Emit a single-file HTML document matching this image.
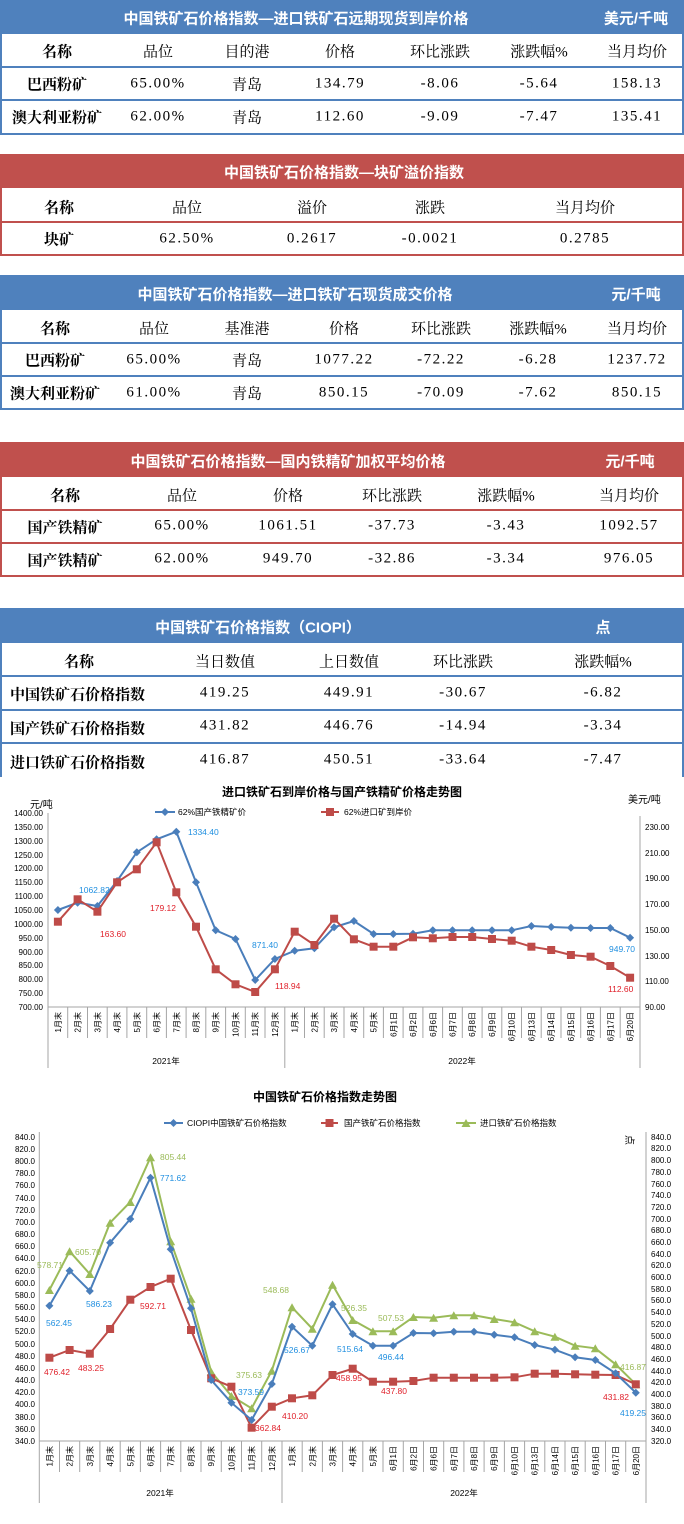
<!DOCTYPE html>
<html><head><meta charset="utf-8">
<style>
*{margin:0;padding:0;box-sizing:border-box}
body{width:684px;height:1524px;background:#fff;position:relative;overflow:hidden;font-family:"Liberation Serif","Noto Serif CJK SC",serif;color:#000}
.hb{position:absolute;left:0;width:684px;background:#4f81bd}
.hr{position:absolute;left:0;width:684px;background:#c0504d}
.ht{position:absolute;color:#fff;font-family:"Liberation Sans","Noto Sans CJK SC",sans-serif;font-weight:bold;font-size:15px;transform:translate(-50%,-50%);white-space:nowrap}
.ln{position:absolute;left:0;width:684px;height:2px}
.vl{position:absolute;width:2px}
.c{position:absolute;transform:translate(-50%,-50%);font-size:15px;white-space:nowrap}
.n{letter-spacing:1.5px}
.b{font-weight:bold}
.l{position:absolute;transform:translate(0,-50%);font-size:15px;font-weight:bold;white-space:nowrap}
svg text{font-family:"Liberation Sans","Noto Sans CJK SC",sans-serif}
</style></head><body>

<!-- Table 1 -->
<div class="hb" style="top:0;height:34px"></div>
<div class="ht" style="left:296px;top:18px">中国铁矿石价格指数—进口铁矿石远期现货到岸价格</div>
<div class="ht" style="left:636px;top:18px">美元/千吨</div>
<div class="vl" style="left:0;top:34px;height:101px;background:#4f81bd"></div>
<div class="vl" style="left:682px;top:34px;height:101px;background:#4f81bd"></div>
<div class="ln" style="top:66px;background:#4f81bd"></div>
<div class="ln" style="top:99px;background:#4f81bd"></div>
<div class="ln" style="top:133px;background:#4f81bd"></div>
<div class="c b" style="left:57px;top:51px">名称</div><div class="c" style="left:158px;top:51px">品位</div><div class="c" style="left:247px;top:51px">目的港</div><div class="c" style="left:340px;top:51px">价格</div><div class="c" style="left:440px;top:51px">环比涨跌</div><div class="c" style="left:539px;top:51px">涨跌幅%</div><div class="c" style="left:637px;top:51px">当月均价</div>
<div class="c b" style="left:57px;top:84px">巴西粉矿</div><div class="c n" style="left:158px;top:84px">65.00%</div><div class="c" style="left:247px;top:84px">青岛</div><div class="c n" style="left:340px;top:84px">134.79</div><div class="c n" style="left:440px;top:84px">-8.06</div><div class="c n" style="left:539px;top:84px">-5.64</div><div class="c n" style="left:637px;top:84px">158.13</div>
<div class="c b" style="left:57px;top:117px">澳大利亚粉矿</div><div class="c n" style="left:158px;top:117px">62.00%</div><div class="c" style="left:247px;top:117px">青岛</div><div class="c n" style="left:340px;top:117px">112.60</div><div class="c n" style="left:440px;top:117px">-9.09</div><div class="c n" style="left:539px;top:117px">-7.47</div><div class="c n" style="left:637px;top:117px">135.41</div>

<!-- Table 2 -->
<div class="hr" style="top:154px;height:34px"></div>
<div class="ht" style="left:344px;top:172px">中国铁矿石价格指数—块矿溢价指数</div>
<div class="vl" style="left:0;top:188px;height:68px;background:#c0504d"></div>
<div class="vl" style="left:682px;top:188px;height:68px;background:#c0504d"></div>
<div class="ln" style="top:221px;background:#c0504d"></div>
<div class="ln" style="top:254px;background:#c0504d"></div>
<div class="c b" style="left:59px;top:207px">名称</div><div class="c" style="left:187px;top:207px">品位</div><div class="c" style="left:312px;top:207px">溢价</div><div class="c" style="left:430px;top:207px">涨跌</div><div class="c" style="left:585px;top:207px">当月均价</div>
<div class="c b" style="left:59px;top:239px">块矿</div><div class="c n" style="left:187px;top:239px">62.50%</div><div class="c n" style="left:312px;top:239px">0.2617</div><div class="c n" style="left:430px;top:239px">-0.0021</div><div class="c n" style="left:585px;top:239px">0.2785</div>

<!-- Table 3 -->
<div class="hb" style="top:275px;height:35px"></div>
<div class="ht" style="left:295px;top:294px">中国铁矿石价格指数—进口铁矿石现货成交价格</div>
<div class="ht" style="left:636px;top:294px">元/千吨</div>
<div class="vl" style="left:0;top:310px;height:100px;background:#4f81bd"></div>
<div class="vl" style="left:682px;top:310px;height:100px;background:#4f81bd"></div>
<div class="ln" style="top:342px;background:#4f81bd"></div>
<div class="ln" style="top:375px;background:#4f81bd"></div>
<div class="ln" style="top:408px;background:#4f81bd"></div>
<div class="c b" style="left:55px;top:328px">名称</div><div class="c" style="left:154px;top:328px">品位</div><div class="c" style="left:247px;top:328px">基准港</div><div class="c" style="left:344px;top:328px">价格</div><div class="c" style="left:441px;top:328px">环比涨跌</div><div class="c" style="left:538px;top:328px">涨跌幅%</div><div class="c" style="left:637px;top:328px">当月均价</div>
<div class="c b" style="left:55px;top:360px">巴西粉矿</div><div class="c n" style="left:154px;top:360px">65.00%</div><div class="c" style="left:247px;top:360px">青岛</div><div class="c n" style="left:344px;top:360px">1077.22</div><div class="c n" style="left:441px;top:360px">-72.22</div><div class="c n" style="left:538px;top:360px">-6.28</div><div class="c n" style="left:637px;top:360px">1237.72</div>
<div class="c b" style="left:55px;top:393px">澳大利亚粉矿</div><div class="c n" style="left:154px;top:393px">61.00%</div><div class="c" style="left:247px;top:393px">青岛</div><div class="c n" style="left:344px;top:393px">850.15</div><div class="c n" style="left:441px;top:393px">-70.09</div><div class="c n" style="left:538px;top:393px">-7.62</div><div class="c n" style="left:637px;top:393px">850.15</div>

<!-- Table 4 -->
<div class="hr" style="top:442px;height:35px"></div>
<div class="ht" style="left:288px;top:461px">中国铁矿石价格指数—国内铁精矿加权平均价格</div>
<div class="ht" style="left:630px;top:461px">元/千吨</div>
<div class="vl" style="left:0;top:477px;height:100px;background:#c0504d"></div>
<div class="vl" style="left:682px;top:477px;height:100px;background:#c0504d"></div>
<div class="ln" style="top:509px;background:#c0504d"></div>
<div class="ln" style="top:542px;background:#c0504d"></div>
<div class="ln" style="top:575px;background:#c0504d"></div>
<div class="c b" style="left:65px;top:495px">名称</div><div class="c" style="left:182px;top:495px">品位</div><div class="c" style="left:288px;top:495px">价格</div><div class="c" style="left:392px;top:495px">环比涨跌</div><div class="c" style="left:506px;top:495px">涨跌幅%</div><div class="c" style="left:629px;top:495px">当月均价</div>
<div class="c b" style="left:65px;top:527px">国产铁精矿</div><div class="c n" style="left:182px;top:526px">65.00%</div><div class="c n" style="left:288px;top:526px">1061.51</div><div class="c n" style="left:392px;top:526px">-37.73</div><div class="c n" style="left:506px;top:526px">-3.43</div><div class="c n" style="left:629px;top:526px">1092.57</div>
<div class="c b" style="left:65px;top:560px">国产铁精矿</div><div class="c n" style="left:182px;top:559px">62.00%</div><div class="c n" style="left:288px;top:559px">949.70</div><div class="c n" style="left:392px;top:559px">-32.86</div><div class="c n" style="left:506px;top:559px">-3.34</div><div class="c n" style="left:629px;top:559px">976.05</div>

<!-- Table 5 -->
<div class="hb" style="top:608px;height:35px"></div>
<div class="ht" style="left:258px;top:627px">中国铁矿石价格指数（CIOPI）</div>
<div class="ht" style="left:603px;top:627px">点</div>
<div class="vl" style="left:0;top:643px;height:134px;background:#4f81bd"></div>
<div class="vl" style="left:682px;top:643px;height:134px;background:#4f81bd"></div>
<div class="ln" style="top:675px;background:#4f81bd"></div>
<div class="ln" style="top:709px;background:#4f81bd"></div>
<div class="ln" style="top:742px;background:#4f81bd"></div>
<div class="c b" style="left:79px;top:661px">名称</div><div class="c" style="left:225px;top:661px">当日数值</div><div class="c" style="left:349px;top:661px">上日数值</div><div class="c" style="left:463px;top:661px">环比涨跌</div><div class="c" style="left:603px;top:661px">涨跌幅%</div>
<div class="l" style="left:10px;top:694px">中国铁矿石价格指数</div><div class="c n" style="left:225px;top:693px">419.25</div><div class="c n" style="left:349px;top:693px">449.91</div><div class="c n" style="left:463px;top:693px">-30.67</div><div class="c n" style="left:603px;top:693px">-6.82</div>
<div class="l" style="left:10px;top:728px">国产铁矿石价格指数</div><div class="c n" style="left:225px;top:726px">431.82</div><div class="c n" style="left:349px;top:726px">446.76</div><div class="c n" style="left:463px;top:726px">-14.94</div><div class="c n" style="left:603px;top:726px">-3.34</div>
<div class="l" style="left:10px;top:762px">进口铁矿石价格指数</div><div class="c n" style="left:225px;top:760px">416.87</div><div class="c n" style="left:349px;top:760px">450.51</div><div class="c n" style="left:463px;top:760px">-33.64</div><div class="c n" style="left:603px;top:760px">-7.47</div>

<svg style="position:absolute;left:0;top:0" width="684" height="1524" viewBox="0 0 684 1524">
<defs>
<marker id="dm" markerUnits="userSpaceOnUse" markerWidth="10" markerHeight="10" refX="5" refY="5"><path d="M5 1 L9 5 L5 9 L1 5Z" fill="#4a7ebb"/></marker>
<marker id="sm" markerUnits="userSpaceOnUse" markerWidth="10" markerHeight="10" refX="5" refY="5"><rect x="1" y="1" width="8" height="8" fill="#be4b48"/></marker>
<marker id="tm" markerUnits="userSpaceOnUse" markerWidth="10" markerHeight="10" refX="5" refY="5"><path d="M5 1 L9.5 9 L0.5 9Z" fill="#9bbb59"/></marker>
</defs>
<rect x="0" y="777" width="684" height="747" fill="#fff"/>

<!-- ===== Chart 1 ===== -->
<text x="342" y="796" font-size="12" font-weight="bold" text-anchor="middle">进口铁矿石到岸价格与国产铁精矿价格走势图</text>
<text x="30" y="808" font-size="10">元/吨</text>
<text x="628" y="803" font-size="10">美元/吨</text>
<line x1="155" y1="812" x2="175" y2="812" stroke="#4a7ebb" stroke-width="2" marker-mid="url(#dm)"/>
<path d="M155 812 L165 812 L175 812" stroke="#4a7ebb" stroke-width="2" fill="none" marker-mid="url(#dm)"/>
<text x="178" y="815" font-size="8.5">62%国产铁精矿价</text>
<path d="M321 812 L330 812 L339 812" stroke="#be4b48" stroke-width="2" fill="none" marker-mid="url(#sm)"/>
<text x="344" y="815" font-size="8.5">62%进口矿到岸价</text>
<g stroke="#a6a6a6" stroke-width="1" fill="none">
<path d="M48 813 V1068 M640 816 V1068 M48 1007 H640 M284.8 1007 V1068"/>
<path d="M67.7 1007V1038M87.5 1007V1038M107.2 1007V1038M126.9 1007V1038M146.7 1007V1038M166.4 1007V1038M186.1 1007V1038M205.8 1007V1038M225.6 1007V1038M245.3 1007V1038M265 1007V1038M304.5 1007V1038M324.2 1007V1038M344 1007V1038M363.7 1007V1038M383.4 1007V1038M403.1 1007V1038M422.9 1007V1038M442.6 1007V1038M462.3 1007V1038M482.1 1007V1038M501.8 1007V1038M521.5 1007V1038M541.2 1007V1038M561 1007V1038M580.7 1007V1038M600.4 1007V1038M620.2 1007V1038"/>
</g>
<g font-size="8" text-anchor="end">
<text x="43" y="816">1400.00</text><text x="43" y="830">1350.00</text><text x="43" y="844">1300.00</text><text x="43" y="858">1250.00</text><text x="43" y="871">1200.00</text><text x="43" y="885">1150.00</text><text x="43" y="899">1100.00</text><text x="43" y="913">1050.00</text><text x="43" y="927">1000.00</text><text x="43" y="941">950.00</text><text x="43" y="955">900.00</text><text x="43" y="968">850.00</text><text x="43" y="982">800.00</text><text x="43" y="996">750.00</text><text x="43" y="1010">700.00</text>
</g>
<g font-size="8">
<text x="645" y="830">230.00</text><text x="645" y="856">210.00</text><text x="645" y="881">190.00</text><text x="645" y="907">170.00</text><text x="645" y="933">150.00</text><text x="645" y="959">130.00</text><text x="645" y="984">110.00</text><text x="645" y="1010">90.00</text>
</g>
<g font-size="8" text-anchor="end">
<text transform="translate(57.9,1012) rotate(-90)" dy="3">1月末</text><text transform="translate(77.6,1012) rotate(-90)" dy="3">2月末</text><text transform="translate(97.4,1012) rotate(-90)" dy="3">3月末</text><text transform="translate(117.1,1012) rotate(-90)" dy="3">4月末</text><text transform="translate(136.8,1012) rotate(-90)" dy="3">5月末</text><text transform="translate(156.6,1012) rotate(-90)" dy="3">6月末</text><text transform="translate(176.3,1012) rotate(-90)" dy="3">7月末</text><text transform="translate(196,1012) rotate(-90)" dy="3">8月末</text><text transform="translate(215.7,1012) rotate(-90)" dy="3">9月末</text><text transform="translate(235.5,1012) rotate(-90)" dy="3">10月末</text><text transform="translate(255.2,1012) rotate(-90)" dy="3">11月末</text><text transform="translate(274.9,1012) rotate(-90)" dy="3">12月末</text><text transform="translate(294.7,1012) rotate(-90)" dy="3">1月末</text><text transform="translate(314.4,1012) rotate(-90)" dy="3">2月末</text><text transform="translate(334.1,1012) rotate(-90)" dy="3">3月末</text><text transform="translate(353.9,1012) rotate(-90)" dy="3">4月末</text><text transform="translate(373.6,1012) rotate(-90)" dy="3">5月末</text><text transform="translate(393.3,1012) rotate(-90)" dy="3">6月1日</text><text transform="translate(413,1012) rotate(-90)" dy="3">6月2日</text><text transform="translate(432.8,1012) rotate(-90)" dy="3">6月6日</text><text transform="translate(452.5,1012) rotate(-90)" dy="3">6月7日</text><text transform="translate(472.2,1012) rotate(-90)" dy="3">6月8日</text><text transform="translate(492,1012) rotate(-90)" dy="3">6月9日</text><text transform="translate(511.7,1012) rotate(-90)" dy="3">6月10日</text><text transform="translate(531.4,1012) rotate(-90)" dy="3">6月13日</text><text transform="translate(551.2,1012) rotate(-90)" dy="3">6月14日</text><text transform="translate(570.9,1012) rotate(-90)" dy="3">6月15日</text><text transform="translate(590.6,1012) rotate(-90)" dy="3">6月16日</text><text transform="translate(610.3,1012) rotate(-90)" dy="3">6月17日</text><text transform="translate(630.1,1012) rotate(-90)" dy="3">6月20日</text>
</g>
<text x="166" y="1064" font-size="8.5" text-anchor="middle">2021年</text>
<text x="462" y="1064" font-size="8.5" text-anchor="middle">2022年</text>
<polyline fill="none" stroke="#4a7ebb" stroke-width="2" marker-start="url(#dm)" marker-mid="url(#dm)" marker-end="url(#dm)" points="57.9,910 77.6,902.7 97.4,906 117.1,881 136.8,852.3 156.6,839.3 176.3,831.7 196,882.3 215.7,930.3 235.5,939 255.2,980 274.9,959 294.7,950.7 314.4,948.3 334.1,927.3 353.9,921 373.6,934 393.3,934 413,933.7 432.8,930.3 452.5,930.3 472.2,930.3 492,930.3 511.7,930.3 531.4,926 551.2,927 570.9,927.7 590.6,928 610.3,928 630.1,937.7"/>
<polyline fill="none" stroke="#be4b48" stroke-width="2" marker-start="url(#sm)" marker-mid="url(#sm)" marker-end="url(#sm)" points="57.9,921.7 77.6,899.3 97.4,911.7 117.1,882.3 136.8,869.3 156.6,842.3 176.3,892.3 196,926.7 215.7,969.3 235.5,984.3 255.2,992 274.9,969.3 294.7,931.7 314.4,945 334.1,918.7 353.9,939.3 373.6,946.7 393.3,946.7 413,937.3 432.8,938.3 452.5,937 472.2,937 492,939 511.7,940.7 531.4,946.7 551.2,950 570.9,955 590.6,956.7 610.3,966 630.1,977.7"/>
<g font-size="8.5" fill="#1f8fe0">
<text x="188" y="835">1334.40</text><text x="79" y="893">1062.82</text><text x="252" y="948">871.40</text><text x="609" y="952">949.70</text>
</g>
<g font-size="8.5" fill="#e0202a">
<text x="150" y="911">179.12</text><text x="100" y="937">163.60</text><text x="275" y="989">118.94</text><text x="608" y="992">112.60</text>
</g>

<!-- ===== Chart 2 ===== -->
<text x="325" y="1101" font-size="12" font-weight="bold" text-anchor="middle">中国铁矿石价格指数走势图</text>
<path d="M164 1123 L173.5 1123 L183 1123" stroke="#4a7ebb" stroke-width="2" fill="none" marker-mid="url(#dm)"/>
<text x="187" y="1126" font-size="8.5">CIOPI中国铁矿石价格指数</text>
<path d="M321 1123 L329.5 1123 L338 1123" stroke="#be4b48" stroke-width="2" fill="none" marker-mid="url(#sm)"/>
<text x="344" y="1126" font-size="8.5">国产铁矿石价格指数</text>
<path d="M456 1123 L466 1123 L476 1123" stroke="#9bbb59" stroke-width="2" fill="none" marker-mid="url(#tm)"/>
<text x="480" y="1126" font-size="8.5">进口铁矿石价格指数</text>
<text transform="translate(629,1140) rotate(90)" font-size="10" text-anchor="middle" dy="3">点</text>
<g stroke="#a6a6a6" stroke-width="1" fill="none">
<path d="M39.3 1132 V1503 M646 1132 V1503 M39.3 1441 H646 M282 1441 V1503"/>
<path d="M59.5 1441V1472M79.7 1441V1472M99.9 1441V1472M120.2 1441V1472M140.4 1441V1472M160.6 1441V1472M180.8 1441V1472M201 1441V1472M221.3 1441V1472M241.5 1441V1472M261.7 1441V1472M302.2 1441V1472M322.4 1441V1472M342.6 1441V1472M362.8 1441V1472M383 1441V1472M403.3 1441V1472M423.5 1441V1472M443.7 1441V1472M463.9 1441V1472M484.1 1441V1472M504.4 1441V1472M524.6 1441V1472M544.8 1441V1472M565 1441V1472M585.2 1441V1472M605.5 1441V1472M625.7 1441V1472"/>
</g>
<g font-size="8" text-anchor="end">
<text x="35" y="1140">840.0</text><text x="35" y="1152">820.0</text><text x="35" y="1164">800.0</text><text x="35" y="1176">780.0</text><text x="35" y="1188">760.0</text><text x="35" y="1201">740.0</text><text x="35" y="1213">720.0</text><text x="35" y="1225">700.0</text><text x="35" y="1237">680.0</text><text x="35" y="1249">660.0</text><text x="35" y="1261">640.0</text><text x="35" y="1274">620.0</text><text x="35" y="1286">600.0</text><text x="35" y="1298">580.0</text><text x="35" y="1310">560.0</text><text x="35" y="1322">540.0</text><text x="35" y="1334">520.0</text><text x="35" y="1347">500.0</text><text x="35" y="1359">480.0</text><text x="35" y="1371">460.0</text><text x="35" y="1383">440.0</text><text x="35" y="1395">420.0</text><text x="35" y="1407">400.0</text><text x="35" y="1420">380.0</text><text x="35" y="1432">360.0</text><text x="35" y="1444">340.0</text>
</g>
<g font-size="8">
<text x="651" y="1140">840.0</text><text x="651" y="1151">820.0</text><text x="651" y="1163">800.0</text><text x="651" y="1175">780.0</text><text x="651" y="1187">760.0</text><text x="651" y="1198">740.0</text><text x="651" y="1210">720.0</text><text x="651" y="1222">700.0</text><text x="651" y="1233">680.0</text><text x="651" y="1245">660.0</text><text x="651" y="1257">640.0</text><text x="651" y="1268">620.0</text><text x="651" y="1280">600.0</text><text x="651" y="1292">580.0</text><text x="651" y="1303">560.0</text><text x="651" y="1315">540.0</text><text x="651" y="1327">520.0</text><text x="651" y="1339">500.0</text><text x="651" y="1350">480.0</text><text x="651" y="1362">460.0</text><text x="651" y="1374">440.0</text><text x="651" y="1385">420.0</text><text x="651" y="1397">400.0</text><text x="651" y="1409">380.0</text><text x="651" y="1420">360.0</text><text x="651" y="1432">340.0</text><text x="651" y="1444">320.0</text>
</g>
<g font-size="8" text-anchor="end">
<text transform="translate(49.4,1446) rotate(-90)" dy="3">1月末</text><text transform="translate(69.6,1446) rotate(-90)" dy="3">2月末</text><text transform="translate(89.8,1446) rotate(-90)" dy="3">3月末</text><text transform="translate(110.1,1446) rotate(-90)" dy="3">4月末</text><text transform="translate(130.3,1446) rotate(-90)" dy="3">5月末</text><text transform="translate(150.5,1446) rotate(-90)" dy="3">6月末</text><text transform="translate(170.7,1446) rotate(-90)" dy="3">7月末</text><text transform="translate(191,1446) rotate(-90)" dy="3">8月末</text><text transform="translate(211.2,1446) rotate(-90)" dy="3">9月末</text><text transform="translate(231.4,1446) rotate(-90)" dy="3">10月末</text><text transform="translate(251.6,1446) rotate(-90)" dy="3">11月末</text><text transform="translate(271.8,1446) rotate(-90)" dy="3">12月末</text><text transform="translate(292,1446) rotate(-90)" dy="3">1月末</text><text transform="translate(312.3,1446) rotate(-90)" dy="3">2月末</text><text transform="translate(332.5,1446) rotate(-90)" dy="3">3月末</text><text transform="translate(352.7,1446) rotate(-90)" dy="3">4月末</text><text transform="translate(372.9,1446) rotate(-90)" dy="3">5月末</text><text transform="translate(393.1,1446) rotate(-90)" dy="3">6月1日</text><text transform="translate(413.4,1446) rotate(-90)" dy="3">6月2日</text><text transform="translate(433.6,1446) rotate(-90)" dy="3">6月6日</text><text transform="translate(453.8,1446) rotate(-90)" dy="3">6月7日</text><text transform="translate(474,1446) rotate(-90)" dy="3">6月8日</text><text transform="translate(494.2,1446) rotate(-90)" dy="3">6月9日</text><text transform="translate(514.5,1446) rotate(-90)" dy="3">6月10日</text><text transform="translate(534.7,1446) rotate(-90)" dy="3">6月13日</text><text transform="translate(554.9,1446) rotate(-90)" dy="3">6月14日</text><text transform="translate(575.1,1446) rotate(-90)" dy="3">6月15日</text><text transform="translate(595.3,1446) rotate(-90)" dy="3">6月16日</text><text transform="translate(615.6,1446) rotate(-90)" dy="3">6月17日</text><text transform="translate(635.8,1446) rotate(-90)" dy="3">6月20日</text>
</g>
<text x="160" y="1496" font-size="8.5" text-anchor="middle">2021年</text>
<text x="464" y="1496" font-size="8.5" text-anchor="middle">2022年</text>
<polyline fill="none" stroke="#9bbb59" stroke-width="2" marker-start="url(#tm)" marker-mid="url(#tm)" marker-end="url(#tm)" points="49.4,1290 69.6,1251.3 89.8,1274 110.1,1222.7 130.3,1202 150.5,1157.3 170.7,1241.3 191,1298.7 211.2,1371.7 231.4,1396 251.6,1408.3 271.8,1370.7 292,1307.3 312.3,1328.7 332.5,1284.7 352.7,1320 372.9,1331.3 393.1,1331.3 413.4,1317 433.6,1317.7 453.8,1315.3 474,1315.3 494.2,1319 514.5,1322.3 534.7,1331.3 554.9,1336.7 575.1,1345.7 595.3,1348.3 615.6,1364.3 635.8,1384.3"/>
<polyline fill="none" stroke="#be4b48" stroke-width="2" marker-start="url(#sm)" marker-mid="url(#sm)" marker-end="url(#sm)" points="49.4,1357.7 69.6,1350 89.8,1353.7 110.1,1329 130.3,1299.7 150.5,1287 170.7,1278.7 191,1330 211.2,1378.3 231.4,1386.7 251.6,1427.7 271.8,1406.7 292,1398.3 312.3,1395.3 332.5,1375 352.7,1368.7 372.9,1381.7 393.1,1381.7 413.4,1381 433.6,1377.7 453.8,1377.7 474,1377.7 494.2,1377.7 514.5,1377.3 534.7,1373.7 554.9,1373.7 575.1,1374.3 595.3,1374.7 615.6,1375 635.8,1384.3"/>
<polyline fill="none" stroke="#4a7ebb" stroke-width="2" marker-start="url(#dm)" marker-mid="url(#dm)" marker-end="url(#dm)" points="49.4,1305.7 69.6,1270.7 89.8,1291 110.1,1242.7 130.3,1219 150.5,1177.7 170.7,1249.3 191,1308.3 211.2,1380 231.4,1402.7 251.6,1420 271.8,1384 292,1326.7 312.3,1345.7 332.5,1304.3 352.7,1334 372.9,1345.7 393.1,1345.7 413.4,1333 433.6,1333.3 453.8,1331.7 474,1331.7 494.2,1334.7 514.5,1337.3 534.7,1345 554.9,1349.7 575.1,1357.3 595.3,1360 615.6,1373.3 635.8,1392.7"/>
<g font-size="8.5" fill="#9bbb59">
<text x="160" y="1160">805.44</text><text x="75" y="1255">605.70</text><text x="37" y="1268">578.71</text><text x="263" y="1293">548.68</text><text x="341" y="1311">526.35</text><text x="378" y="1321">507.53</text><text x="236" y="1378">375.63</text><text x="620" y="1370">416.87</text>
</g>
<g font-size="8.5" fill="#1f8fe0">
<text x="160" y="1181">771.62</text><text x="86" y="1307">586.23</text><text x="46" y="1326">562.45</text><text x="284" y="1353">526.67</text><text x="337" y="1352">515.64</text><text x="378" y="1360">496.44</text><text x="238" y="1395">373.59</text><text x="620" y="1416">419.25</text>
</g>
<g font-size="8.5" fill="#e0202a">
<text x="140" y="1309">592.71</text><text x="44" y="1375">476.42</text><text x="78" y="1371">483.25</text><text x="282" y="1419">410.20</text><text x="255" y="1431">362.84</text><text x="336" y="1381">458.95</text><text x="381" y="1394">437.80</text><text x="603" y="1400">431.82</text>
</g>
</svg>
</body></html>
